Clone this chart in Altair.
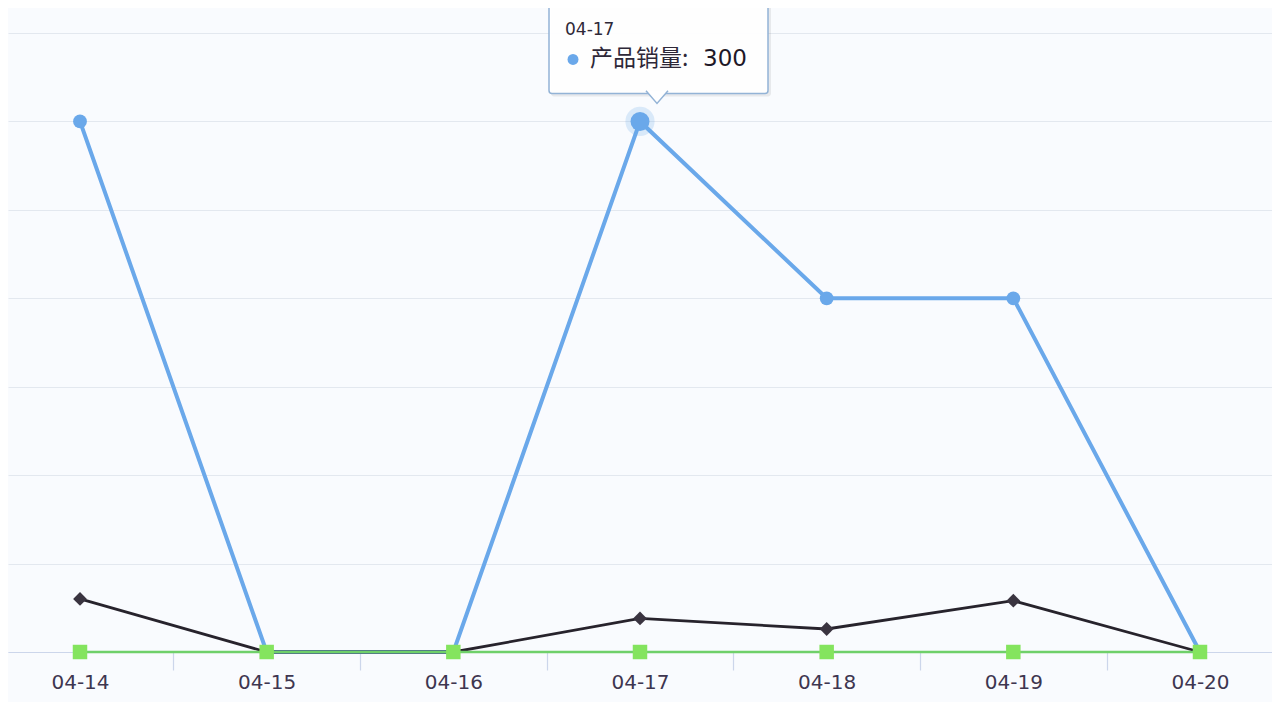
import json
import altair as alt
import pandas as pd

# ---- data ----
dates = ["04-14", "04-15", "04-16", "04-17", "04-18", "04-19", "04-20"]
sales = [300, 0, 0, 300, 200, 200, 0]          # 产品销量 (blue)
series_dark = [30, 0, 0, 19, 13, 29, 0]        # dark diamonds
series_green = [0, 0, 0, 0, 0, 0, 0]           # green squares
y_ticks = [0, 50, 100, 150, 200, 250, 300, 350]
tip_date = "04-17"
tip_name = "产品销量"

idx = list(range(len(dates)))
df_blue = pd.DataFrame({"i": idx, "date": dates, "v": sales})
df_dark = pd.DataFrame({"i": idx, "date": dates, "v": series_dark})
df_green = pd.DataFrame({"i": idx, "date": dates, "v": series_green})
ti = dates.index(tip_date)
df_tip = pd.DataFrame({"i": [ti], "date": [tip_date], "v": [sales[ti]],
                       "name": [tip_name + ":"], "val": [str(sales[ti])]})

pad = 0.3857
tick_vals = sorted(set(idx + [k + 0.5 for k in idx[:-1]]))
label_expr = ("datum.value % 1 == 0 ? " + json.dumps(dates) +
              "[round(datum.value)] : ''")

x_enc = alt.X(
    "i:Q",
    scale=alt.Scale(domain=[-pad, len(dates) - 1 + pad], nice=False, zero=False),
    axis=alt.Axis(
        values=tick_vals, labelExpr=label_expr, grid=False, title=None,
        domainColor="#ccd6eb", domainWidth=1.2,
        tickColor="#ccd6eb", tickSize=18, tickWidth=1.2,
        tickOpacity={"condition": {"test": "datum.value % 1 != 0", "value": 1}, "value": 0},
        labelFontSize=20, labelColor="#3e3650", labelFont="DejaVu Sans",
        labelPadding=2, labelOverlap=False, labelFlush=False,
    ),
)
y_enc = alt.Y(
    "v:Q",
    scale=alt.Scale(domain=[0, 350], nice=False),
    axis=alt.Axis(values=y_ticks, grid=True, gridColor="#e3e8ef", gridWidth=1.2,
                  labels=False, ticks=False, domain=False, title=None),
)

blue = "#6aa8ea"
blue_line = alt.Chart(df_blue).mark_line(color=blue, strokeWidth=4).encode(x=x_enc, y=y_enc)
blue_pts = alt.Chart(df_blue).mark_point(filled=True, color=blue, size=190, opacity=1).encode(x=x_enc, y=y_enc)

dark_line = alt.Chart(df_dark).mark_line(color="#27232c", strokeWidth=2.8).encode(x=x_enc, y=y_enc)
dark_pts = alt.Chart(df_dark).mark_point(filled=True, color="#3a3440", shape="diamond",
                                         size=190, opacity=1).encode(x=x_enc, y=y_enc)

green_line = alt.Chart(df_green).mark_line(color="#6fd06a", strokeWidth=2.6).encode(x=x_enc, y=y_enc)
green_pts = alt.Chart(df_green).mark_point(filled=True, color="#84e45e", shape="square",
                                           size=210, opacity=1).encode(x=x_enc, y=y_enc)

# highlighted point with halo
halo = alt.Chart(df_tip).mark_point(filled=True, color=blue, size=850, opacity=0.22).encode(x=x_enc, y=y_enc)
hi_pt = alt.Chart(df_tip).mark_point(filled=True, color=blue, size=360, opacity=1).encode(x=x_enc, y=y_enc)

# tooltip box
box_shadow = alt.Chart(df_tip).mark_rect(
    fill="#000000", opacity=0.07, cornerRadius=3,
    xOffset=-89, x2Offset=131, yOffset=-125, y2Offset=-25,
).encode(x=x_enc, x2="i", y=y_enc, y2="v")
box = alt.Chart(df_tip).mark_rect(
    fill="#ffffff", fillOpacity=0.95, stroke="#93b3d6", strokeWidth=1.5, cornerRadius=3,
    xOffset=-91, x2Offset=128, yOffset=-127, y2Offset=-28,
).encode(x=x_enc, x2="i", y=y_enc, y2="v")
pointer = alt.Chart(df_tip).mark_point(
    shape="M -1 -0.15 L 0 1 L 1 -0.15", filled=False, fill="#ffffff", fillOpacity=1,
    stroke="#93b3d6", strokeWidth=1.5, size=484, opacity=1,
    xOffset=17, yOffset=-29,
).encode(x=x_enc, y=y_enc)
tip_head = alt.Chart(df_tip).mark_text(
    align="left", baseline="middle", dx=-75, dy=-91, fontSize=17,
    font="DejaVu Sans", color="#2e2838",
).encode(x=x_enc, y=y_enc, text="date:N")
tip_dot = alt.Chart(df_tip).mark_point(
    filled=True, color=blue, size=120, opacity=1, xOffset=-67, yOffset=-62,
).encode(x=x_enc, y=y_enc)
tip_name_t = alt.Chart(df_tip).mark_text(
    align="left", baseline="middle", dx=-50, dy=-62, fontSize=23,
    font="Noto Sans CJK SC", color="#2e2838",
).encode(x=x_enc, y=y_enc, text="name:N")
tip_val_t = alt.Chart(df_tip).mark_text(
    align="left", baseline="middle", dx=63, dy=-62, fontSize=23,
    font="DejaVu Sans", fontWeight=500, color="#1e1828",
).encode(x=x_enc, y=y_enc, text="val:N")

chart = alt.layer(
    blue_line, blue_pts, dark_line, dark_pts, green_line, green_pts,
    halo, hi_pt, box_shadow, box, pointer, tip_head, tip_dot, tip_name_t, tip_val_t,
).properties(
    width=1264, height=619,
    autosize=alt.AutoSizeParams(type="none"),
    padding={"left": 0, "top": 25, "right": 0, "bottom": 50},
    background="#f9fbfe",
).configure_view(stroke=None)

chart.save("out.html", embed_options={"renderer": "svg", "actions": False})
